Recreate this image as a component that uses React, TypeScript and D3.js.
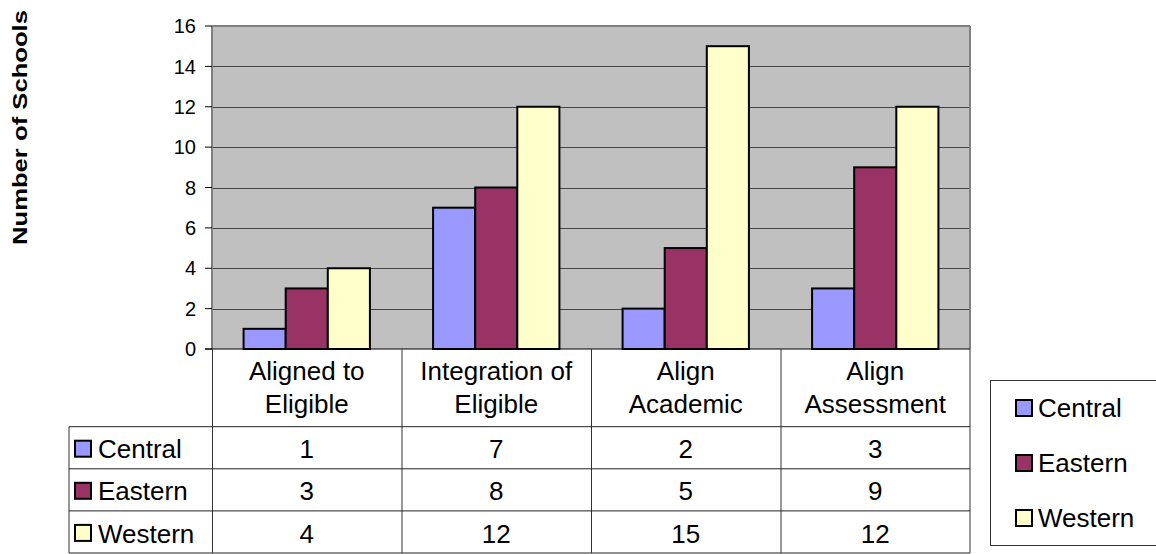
import React from "react";
import * as d3 from "d3";

const categories: string[][] = [
  ["Aligned to", "Eligible"],
  ["Integration of", "Eligible"],
  ["Align", "Academic"],
  ["Align", "Assessment"],
];
const seriesNames = ["Central", "Eastern", "Western"];
const central = [1, 7, 2, 3];
const eastern = [3, 8, 5, 9];
const western = [4, 12, 15, 12];
const yTicks = [0, 2, 4, 6, 8, 10, 12, 14, 16];
const colors = ["#9999FF", "#993366", "#FFFFCC"];
const yTitle = "Number of Schools";

const W = 1156;
const H = 554;
const plot = { left: 212, right: 970, top: 26, bottom: 349 };
const tableLeft = 69;
const headerBottom = 426.7;
const rowH = 42.1;
const FONT = "Liberation Sans, Arial, sans-serif";
const TXT = 26;

export default function App() {
  const series = [central, eastern, western];
  const y = d3.scaleLinear().domain([0, 16]).range([plot.bottom, plot.top]);
  const x0 = d3
    .scaleBand<number>()
    .domain(categories.map((_, i) => i))
    .range([plot.left, plot.right])
    .paddingInner(0)
    .paddingOuter(0);
  const colW = x0.bandwidth();
  const barW = colW / 4.5;
  const x1 = d3
    .scaleBand<number>()
    .domain([0, 1, 2])
    .range([barW * 0.75, colW - barW * 0.75])
    .padding(0);

  const rowTops = seriesNames.map((_, i) => headerBottom + i * rowH);
  const tableBottom = headerBottom + 3 * rowH;

  return (
    <svg
      width={W}
      height={H}
      style={{ position: "absolute", left: 0, top: 0, background: "#fff" }}
      fontFamily={FONT}
    >
      <rect
        x={plot.left}
        y={plot.top}
        width={plot.right - plot.left}
        height={plot.bottom - plot.top}
        fill="#C0C0C0"
      />
      {yTicks
        .filter((t) => t > 0 && t < 16)
        .map((t) => (
          <line
            key={"g" + t}
            x1={plot.left}
            x2={plot.right}
            y1={Math.round(y(t)) + 0.5}
            y2={Math.round(y(t)) + 0.5}
            stroke="#444"
            strokeWidth={1}
          />
        ))}
      <line x1={plot.left} x2={plot.right} y1={plot.top} y2={plot.top} stroke="#808080" strokeWidth={2} />
      <line x1={plot.right} x2={plot.right} y1={plot.top} y2={plot.bottom} stroke="#808080" strokeWidth={2} />
      {series.map((vals, si) =>
        vals.map((v, ci) => {
          const bx = (x0(ci) as number) + (x1(si) as number);
          return (
            <rect
              key={`b${si}-${ci}`}
              x={bx}
              y={y(v)}
              width={x1.bandwidth()}
              height={y(0) - y(v)}
              fill={colors[si]}
              stroke="#000"
              strokeWidth={2}
            />
          );
        })
      )}
      <line x1={plot.left} x2={plot.left} y1={plot.top} y2={plot.bottom} stroke="#808080" strokeWidth={2} />
      {yTicks.map((t) => (
        <g key={"t" + t}>
          <line x1={plot.left - 7} x2={plot.left} y1={y(t)} y2={y(t)} stroke="#000" strokeWidth={1} />
          <text x={196} y={y(t)} dy="0.36em" textAnchor="end" fontSize={20} fill="#000">
            {t}
          </text>
        </g>
      ))}
      <line x1={plot.left - 7} x2={plot.right} y1={plot.bottom} y2={plot.bottom} stroke="#000" strokeWidth={1} />

      <text
        transform={`translate(27, ${(10 + 245) / 2}) rotate(-90)`}
        textAnchor="middle"
        fontWeight="bold"
        fontSize={20}
        textLength={235}
        lengthAdjust="spacingAndGlyphs"
        fill="#000"
      >
        {yTitle}
      </text>

      {categories.map((_, i) => (
        <line
          key={"v" + i}
          x1={(x0(i) as number) + 0.5}
          x2={(x0(i) as number) + 0.5}
          y1={plot.bottom}
          y2={tableBottom}
          stroke="#333"
          strokeWidth={1}
        />
      ))}
      <line x1={plot.right} x2={plot.right} y1={plot.bottom} y2={tableBottom} stroke="#333" strokeWidth={1} />
      <line x1={tableLeft} x2={tableLeft} y1={headerBottom} y2={tableBottom} stroke="#333" strokeWidth={1} />
      {[...rowTops, tableBottom].map((ry, i) => (
        <line
          key={"h" + i}
          x1={tableLeft}
          x2={plot.right}
          y1={ry}
          y2={ry}
          stroke="#222"
          strokeWidth={1}
        />
      ))}
      {categories.map((lines, i) => (
        <text
          key={"c" + i}
          x={(x0(i) as number) + colW / 2}
          textAnchor="middle"
          fontSize={TXT}
          fill="#000"
        >
          {lines.map((l, li) => (
            <tspan key={li} x={(x0(i) as number) + colW / 2} y={380 + li * 33}>
              {l}
            </tspan>
          ))}
        </text>
      ))}
      {series.map((vals, si) => (
        <g key={"r" + si}>
          <rect
            x={75}
            y={rowTops[si] + 14}
            width={16}
            height={16}
            fill={colors[si]}
            stroke="#000"
            strokeWidth={2}
          />
          <text x={98} y={rowTops[si] + 31.6} fontSize={TXT} fill="#000">
            {seriesNames[si]}
          </text>
          {vals.map((v, ci) => (
            <text
              key={ci}
              x={(x0(ci) as number) + colW / 2}
              y={rowTops[si] + 31.6}
              textAnchor="middle"
              fontSize={TXT}
              fill="#000"
            >
              {v}
            </text>
          ))}
        </g>
      ))}

      <rect x={990.5} y={380.5} width={180} height={165} fill="#fff" stroke="#333" strokeWidth={1} />
      {seriesNames.map((n, i) => (
        <g key={"l" + i}>
          <rect
            x={1016}
            y={400 + i * 55}
            width={16}
            height={16}
            fill={colors[i]}
            stroke="#000"
            strokeWidth={2}
          />
          <text x={1038} y={416.5 + i * 55} fontSize={TXT} fill="#000">
            {n}
          </text>
        </g>
      ))}
    </svg>
  );
}
